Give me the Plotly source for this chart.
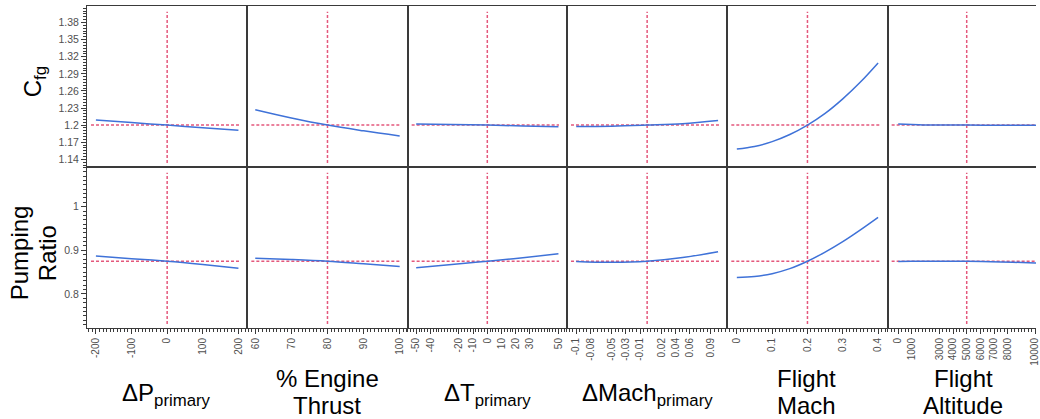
import plotly.graph_objects as go

# ---------------- data ----------------
factor_labels = [["ΔP<sub>primary</sub>"], ["% Engine", "Thrust"], ["ΔT<sub>primary</sub>"],
                 ["ΔMach<sub>primary</sub>"], ["Flight", "Mach"], ["Flight", "Altitude"]]
response_labels = [["C<sub>fg</sub>"], ["Pumping", "Ratio"]]

dp_x = [-200, -100, 0, 100, 200]
dp_cfg = [1.209, 1.2045, 1.200, 1.1955, 1.191]
dp_pr = [0.887, 0.881, 0.875, 0.8675, 0.859]

thrust_x = [60, 70, 80, 90, 100]
thrust_cfg = [1.227, 1.2125, 1.200, 1.190, 1.181]
thrust_pr = [0.882, 0.879, 0.875, 0.869, 0.8627]

dt_x = [-50, -25, 0, 25, 50]
dt_cfg = [1.202, 1.201, 1.200, 1.1985, 1.197]
dt_pr = [0.860, 0.8675, 0.875, 0.883, 0.892]

dm_x = [-0.1, -0.05, 0, 0.05, 0.1]
dm_cfg = [1.1975, 1.198, 1.200, 1.2025, 1.208]
dm_pr = [0.8745, 0.8725, 0.875, 0.8835, 0.897]

mach_x = [0, 0.05, 0.1, 0.15, 0.2, 0.25, 0.3, 0.35, 0.4]
mach_cfg = [1.158, 1.1625, 1.171, 1.1835, 1.200, 1.2205, 1.246, 1.2755, 1.309]
mach_pr = [0.838, 0.840, 0.8465, 0.858, 0.875, 0.896, 0.920, 0.947, 0.9757]

alt_x = [0, 1000, 2500, 5000, 7500, 10000, 12000]
alt_cfg = [1.2018, 1.2012, 1.2002, 1.200, 1.1999, 1.1998, 1.1997]
alt_pr = [0.8745, 0.875, 0.875, 0.875, 0.8735, 0.871, 0.870]

factor_x = [dp_x, thrust_x, dt_x, dm_x, mach_x, alt_x]
cfg_series = [dp_cfg, thrust_cfg, dt_cfg, dm_cfg, mach_cfg, alt_cfg]
pr_series = [dp_pr, thrust_pr, dt_pr, dm_pr, mach_pr, alt_pr]

factor_current = [0, 80, 0, 0, 0.2, 5000]
response_current = [1.2, 0.875]

dp_ticks = [-200, -100, 0, 100, 200]
thrust_ticks = [60, 70, 80, 90, 100]
dt_ticks = [-50, -40, -20, -10, 0, 10, 20, 30, 50]
dm_ticks = [-0.1, -0.08, -0.05, -0.03, -0.01, 0.02, 0.04, 0.06, 0.09]
mach_ticks = [0, 0.1, 0.2, 0.3, 0.4]
alt_ticks = [0, 1000, 3000, 4000, 5000, 6000, 7000, 8000, 10000]
factor_ticks = [dp_ticks, thrust_ticks, dt_ticks, dm_ticks, mach_ticks, alt_ticks]

cfg_ticks = [1.14, 1.17, 1.2, 1.23, 1.26, 1.29, 1.32, 1.35, 1.38]
pr_ticks = [0.8, 0.9, 1]
response_ticks = [cfg_ticks, pr_ticks]

# ---------------- layout geometry / styles ----------------
W, H = 1040, 419
L, R, T, B = 87, 1040, 6, 328
col_edges = [87, 248, 409, 569, 730, 891, 1040]
row_edges = [6, 167, 328]
x_ranges = [[-225, 225], [57.8, 102.2], [-56, 56], [-0.113, 0.113], [-0.027, 0.427], [-775, 10060]]
x_minor = [10, 1, 2, 0.005, 0.01, 250]
y_ranges = [[1.1265, 1.409], [0.722, 1.091]]
y_minor = [0.005, 0.01]

BLUE = "#3f72d8"
RED = "#e4587c"
AXC = "#3a3a3a"
TICKC = "#505050"
FONT = "Liberation Sans, Arial, sans-serif"


def fx(p):
    return (p - L) / (R - L)


def fy(p):
    return (B - p) / (B - T)


fig = go.Figure()
layout = dict(width=W, height=H, margin=dict(l=L, r=W - R, t=T, b=H - B),
              paper_bgcolor="white", plot_bgcolor="white", showlegend=False,
              font=dict(family=FONT, color="black"))
shapes = []
annotations = []

for r in range(2):
    for c in range(6):
        idx = r * 6 + c + 1
        sfx = "" if idx == 1 else str(idx)
        ys = cfg_series[c] if r == 0 else pr_series[c]
        fig.add_trace(go.Scatter(x=factor_x[c], y=ys, mode="lines",
                                 line=dict(color=BLUE, width=1.5, shape="spline"),
                                 xaxis="x" + sfx, yaxis="y" + sfx, hoverinfo="skip"))
        bottom = (r == 1)
        xa = dict(domain=[fx(col_edges[c]), fx(col_edges[c + 1])], anchor="y" + sfx,
                  range=x_ranges[c], showgrid=False, zeroline=False,
                  showline=True, mirror=True, linecolor=AXC, linewidth=1,
                  fixedrange=True)
        if bottom:
            xa.update(ticks="outside", ticklen=5, tickwidth=1, tickcolor=AXC,
                      tickmode="array", tickvals=factor_ticks[c],
                      ticktext=[str(v) for v in factor_ticks[c]],
                      tickangle=-90, tickfont=dict(size=10, color=TICKC, family=FONT),
                      ticklabeloverflow="allow",
                      minor=dict(ticks="outside", ticklen=3, tickcolor=AXC,
                                 dtick=x_minor[c], tick0=0, showgrid=False))
        else:
            xa.update(ticks="", showticklabels=False)
        ya = dict(domain=[fy(row_edges[r + 1]), fy(row_edges[r])], anchor="x" + sfx,
                  range=y_ranges[r], showgrid=False, zeroline=False,
                  showline=True, mirror=(c != 5), linecolor=AXC, linewidth=1,
                  fixedrange=True)
        if c == 0:
            ya.update(ticks="outside", ticklen=5, tickwidth=1, tickcolor=AXC,
                      tickmode="array", tickvals=response_ticks[r],
                      ticktext=[str(v) for v in response_ticks[r]],
                      tickfont=dict(size=10.5, color=TICKC, family=FONT),
                      minor=dict(ticks="outside", ticklen=3, tickcolor=AXC,
                                 dtick=y_minor[r], tick0=0, showgrid=False))
        else:
            ya.update(ticks="", showticklabels=False)
        layout["xaxis" + sfx] = xa
        layout["yaxis" + sfx] = ya

        # current-value reference lines
        shapes.append(dict(type="line", layer="below", xref="x" + sfx, yref="y" + sfx + " domain",
                           x0=factor_current[c], x1=factor_current[c], y0=0.025, y1=0.965,
                           line=dict(color=RED, width=1.5, dash="3px,2px")))
        hx0, hx1 = (0.025, 0.95) if c != 5 else (0.027, 1.0)
        shapes.append(dict(type="line", layer="below", xref="x" + sfx + " domain", yref="y" + sfx,
                           x0=hx0, x1=hx1, y0=response_current[r], y1=response_current[r],
                           line=dict(color=RED, width=1.5, dash="3px,2px")))

# factor titles (bottom)
title_cx = [167, 328.5, 489, 649.5, 810, 967]
for c, lines in enumerate(factor_labels):
    if len(lines) == 1:
        annotations.append(dict(text=lines[0], xref="paper", yref="paper", x=fx(title_cx[c]),
                                y=fy(394), xanchor="center", yanchor="middle", showarrow=False,
                                font=dict(size=24, family=FONT, color="black")))
    else:
        for k, (txt, py) in enumerate(zip(lines, [379, 405])):
            annotations.append(dict(text=txt, xref="paper", yref="paper", x=fx(title_cx[c]),
                                    y=fy(py), xanchor="center", yanchor="middle", showarrow=False,
                                    font=dict(size=24, family=FONT, color="black")))

# response titles (left, rotated)
annotations.append(dict(text=response_labels[0][0], xref="paper", yref="paper", x=fx(34), y=fy(82),
                        xanchor="center", yanchor="middle", textangle=-90, showarrow=False,
                        font=dict(size=24, family=FONT, color="black")))
for txt, pxx in zip(response_labels[1], [20, 48]):
    annotations.append(dict(text=txt, xref="paper", yref="paper", x=fx(pxx), y=fy(253),
                            xanchor="center", yanchor="middle", textangle=-90, showarrow=False,
                            font=dict(size=24, family=FONT, color="black")))

layout["shapes"] = shapes
layout["annotations"] = annotations
fig.update_layout(**layout)
fig.write_html("out.html", config={"displayModeBar": False},
               post_script="document.body.style.margin='0';document.body.style.overflow='hidden';")
